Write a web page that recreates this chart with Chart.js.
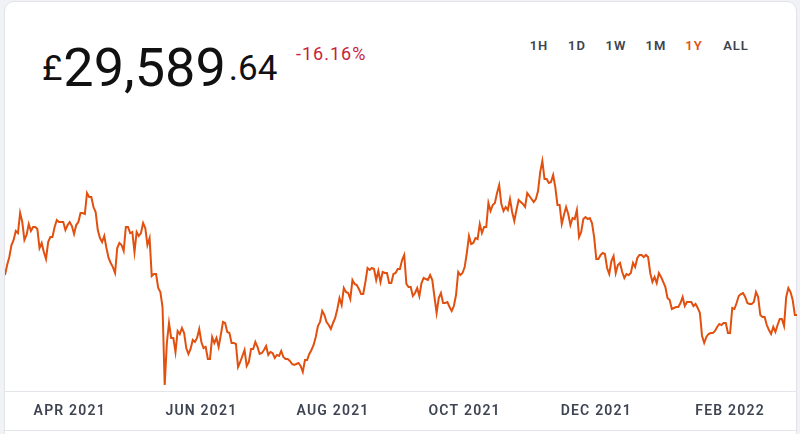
<!DOCTYPE html>
<html lang="en">
<head>
    <meta charset="UTF-8">
    <title>BTC / GBP 1Y</title>
    <script src="https://cdn.jsdelivr.net/npm/chart.js"></script>
    <style>
        html, body { margin: 0; padding: 0; }
        body { width: 800px; height: 434px; background: #f1f2f5; overflow: hidden; font-family: Roboto, 'Noto Sans', sans-serif; }
        .card { position: absolute; left: 4px; top: 1px; width: 791px; height: 460px; background: #fff;
                border: 1px solid #e2e4e9; border-radius: 10px; }
        .price { position: absolute; left: 42px; top: 40px; height: 56px; display: flex; align-items: center; color: #111; }
        .price .small { font-size: 35px; line-height: 1; }
        .price .big { font-size: 54px; line-height: 1; margin-left: 1px; }
        .price .cents { margin-left: 3px; }
        .change { position: absolute; left: 296px; top: 45px; font-size: 18px; line-height: 1; color: #c81e3c; letter-spacing: 1px; }
        .ranges { position: absolute; top: 38px; left: 0; width: 800px; height: 16px; }
        .ranges span { position: absolute; transform: translateX(-50%); font-size: 13px; font-weight: 600;
                       letter-spacing: 1px; color: #3d4350; line-height: 16px; }
        .ranges span.on { color: #e2500f; }
        .bottom-line { position: absolute; left: 5px; top: 430px; width: 791px; height: 1px; background: #e4e5ea; }
        .chart-box { position: absolute; left: 5px; top: 140px; width: 792px; height: 290px; }
    </style>
</head>
<body>
    <div class="card"></div>
    <div class="price"><span class="small">£</span><span class="big">29,589</span><span class="small cents">.64</span></div>
    <div class="change">-16.16%</div>
    <div class="ranges" id="ranges"></div>
    <div class="chart-box"><canvas id="priceChart"></canvas></div>
    <div class="bottom-line"></div>

    <script>
        // daily closing price in GBP (Mar 2021 -> Mar 2022)
        const prices = [
            35290, 36720, 37860, 39570, 40290, 41570, 41280, 44140, 42850, 40290, 41000, 42570, 41570, 42140, 42140, 41850,
            39140, 39860, 38570, 37580, 40000, 40710, 40710, 42140, 43140, 42850, 42850, 42850, 41710, 42420, 42850, 42280,
            41140, 42420, 42850, 44140, 44140, 43990, 46990, 46420, 46420, 44990, 44280, 41710, 40570, 40000, 40860, 39140,
            37720, 37010, 36430, 35580, 39140, 39860, 39570, 38720, 42140, 42140, 41280, 41430, 38570, 41430, 40860, 41280,
            42710, 42000, 39570, 40570, 35150, 35440, 35440, 33440, 32870,
            30730, 19610, 25600, 28450, 26310, 26310, 24310, 27310, 26880, 27740, 27020, 24880, 24030, 24740, 26030, 25740,
            26310, 27590, 25740, 24880, 25030, 23320, 23320, 26450, 25600, 26310, 25030, 26740, 28590, 28450, 27170, 27020,
            25600, 25600, 25450, 22170, 22890, 23740, 24600, 22320, 22890, 24740, 24740, 25740, 25030, 24030, 24170, 24600,
            25170, 23890, 24310, 24170, 23460, 23890, 23740, 24460, 23600, 23320, 23320, 23030, 22600, 22460, 22600, 22750,
            22320, 21460, 23170, 23170, 24030, 24600, 25310, 26450, 28020, 28590,
            30160, 29590, 28590, 28160, 27590, 28450, 29160, 30450, 32010, 31020, 33440, 32870, 32730, 31870, 34580, 34010,
            33870, 33300, 32580, 32580, 34300, 36290, 36010, 36290, 36150, 34580, 35860, 34300, 35720, 35580, 35580, 34150,
            34150, 35440, 35580, 36150, 36150, 37430, 38150, 34010, 33580, 33580, 32300, 32730, 33440, 32300, 34150, 34870,
            34720, 34580, 35290, 34580, 32160, 29880, 32010, 32730, 31300, 31300, 31440, 30730, 30160, 30870, 32440, 35720,
            35290, 35580, 36430, 38430, 40860, 39710, 39860, 40570, 40430,
            42570, 41280, 42140, 42140, 45560, 44420, 45280, 45560, 46990, 48130, 45420, 44420, 44990, 44560, 46130, 44280,
            42990, 44560, 45990, 45700, 45420, 44990, 46990, 46560, 46130, 45700, 46130, 47270, 49980, 51550, 48980, 48980,
            48410, 48560, 49550, 47840, 45280, 45280, 42570, 43850, 44990, 43990, 42420, 43420, 43280, 44560, 40710, 41430,
            43280, 43560, 43280, 43420, 42710, 40710, 37580, 37580, 38150, 38430, 38290, 36290, 35440, 37290, 38000, 35580,
            36720, 37010, 35720, 34870, 35440, 35290, 35580, 37010, 36430, 37720,
            38150, 38150, 37860, 38150, 37860, 35580, 34300, 35010, 34150, 35580, 35010, 34300, 33580, 32010, 31730, 30450,
            30590, 30730, 30730, 31300, 32160, 30870, 31440, 31440, 31440, 30870, 31160, 30590, 29880, 26600, 25600, 26450,
            26880, 27020, 27020, 27310, 27880, 28310, 28160, 28450, 28450, 27020, 27020, 30590, 30450, 31300, 32300, 32580,
            32730, 32160, 31300, 31160, 31160, 31440, 32870, 32160, 29590, 29300, 29300, 28160, 27450, 26880, 27880, 27170,
            28160, 29020, 29020, 28020, 32160, 33440, 32870, 31730, 29590, 29590
        ];

        // x axis labels and the day (index) where each sits
        const tickLabels = ['APR 2021', 'JUN 2021', 'AUG 2021', 'OCT 2021', 'DEC 2021', 'FEB 2022'];
        const tickDays = [30, 91, 152, 213, 274, 336];

        // range buttons at the top right
        const rangeNames = ['1H', '1D', '1W', '1M', '1Y', 'ALL'];
        const rangeCenters = [539, 577, 616, 656, 694, 736];
        const activeRange = '1Y';

        const lineColor = '#e2500f';

        const rangesEl = document.getElementById('ranges');
        rangeNames.forEach((name, i) => {
            const s = document.createElement('span');
            s.textContent = name;
            s.style.left = rangeCenters[i] + 'px';
            if (name === activeRange) s.className = 'on';
            rangesEl.appendChild(s);
        });

        const points = prices.map((p, i) => ({ x: i, y: p }));

        // canvas letter spacing for the axis labels
        const spacingPlugin = {
            id: 'spacing',
            beforeDraw(chart) { chart.ctx.letterSpacing = '1.2px'; }
        };

        const ctx = document.getElementById('priceChart').getContext('2d');
        new Chart(ctx, {
            type: 'line',
            data: {
                datasets: [{
                    data: points,
                    borderColor: lineColor,
                    borderWidth: 2,
                    pointRadius: 0,
                    tension: 0,
                    fill: false
                }]
            },
            options: {
                responsive: true,
                maintainAspectRatio: false,
                animation: false,
                layout: { padding: 0 },
                plugins: { legend: { display: false }, tooltip: { enabled: false } },
                scales: {
                    x: {
                        type: 'linear',
                        min: 0,
                        max: prices.length - 1,
                        grid: { display: false, drawTicks: false },
                        border: { display: true, color: '#e4e5ea', width: 1 },
                        afterBuildTicks: (axis) => { axis.ticks = tickDays.map(d => ({ value: d })); },
                        afterFit: (axis) => { axis.height = 39; },
                        ticks: {
                            autoSkip: false,
                            maxRotation: 0,
                            padding: 12,
                            color: '#3d4452',
                            font: { family: 'Roboto', size: 14, weight: '600' },
                            callback: (v, i) => tickLabels[i]
                        }
                    },
                    y: {
                        display: false,
                        min: 18750,
                        max: 54550
                    }
                }
            },
            plugins: [spacingPlugin]
        });
    </script>
</body>
</html>
